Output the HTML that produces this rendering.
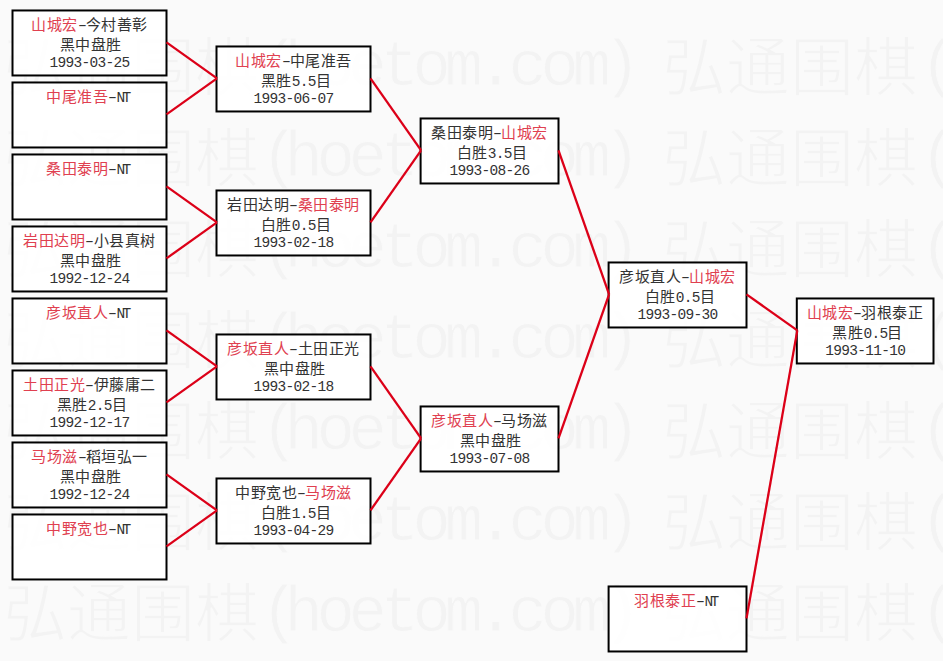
<!DOCTYPE html>
<html lang="zh-CN"><head><meta charset="utf-8"><title>bracket</title>
<style>
html,body{margin:0;padding:0;}
body{width:943px;height:661px;overflow:hidden;background:#fafafa;font-family:"Liberation Sans",sans-serif;}
.root{position:relative;width:943px;height:661px;overflow:hidden;background:#fafafa;}
.wr{position:absolute;left:0;width:943px;height:91px;}
.wu{position:absolute;top:0;white-space:nowrap;font-family:"Liberation Serif",serif;font-size:64px;line-height:1;color:#f3f3f3;-webkit-text-stroke:1.5px #fafafa;}
.wa{position:absolute;white-space:nowrap;font-family:"Liberation Mono",monospace;font-size:64px;letter-spacing:-6.4px;line-height:1;color:#f3f3f3;-webkit-text-stroke:0.8px #fafafa;}
svg{position:absolute;left:0;top:0;}
.t{position:absolute;text-align:center;white-space:nowrap;font-family:"Liberation Sans",sans-serif;font-size:15px;line-height:20px;letter-spacing:0.5px;-webkit-text-stroke:0px #fafafa;}
.r{color:#e04050;}
.b{color:#333;}
.a{font-family:"Liberation Mono",monospace;font-size:14.5px;letter-spacing:-0.7px;}
.a.nt{letter-spacing:-2.6px;}
.a.h{display:inline-block;transform:scaleX(1.6);letter-spacing:-0.7px;}
</style></head><body><div class="root">
<div class="wr" style="top:37px"><span class="wu" style="left:-656.5px;top:0px">弘通围棋</span><span class="wa" style="left:-398.5px;top:-1px">(</span><span class="wa" style="left:-374.5px;top:-1px">hoetom.com</span><span class="wa" style="left:-56.5px;top:-1px">)</span><span class="wu" style="left:2.5px;top:0px">弘通围棋</span><span class="wa" style="left:260.5px;top:-1px">(</span><span class="wa" style="left:284.5px;top:-1px">hoetom.com</span><span class="wa" style="left:602.5px;top:-1px">)</span><span class="wu" style="left:661.5px;top:0px">弘通围棋</span><span class="wa" style="left:919.5px;top:-1px">(</span><span class="wa" style="left:943.5px;top:-1px">hoetom.com</span><span class="wa" style="left:1261.5px;top:-1px">)</span></div><div class="wr" style="top:128px"><span class="wu" style="left:-656.5px;top:0px">弘通围棋</span><span class="wa" style="left:-398.5px;top:-1px">(</span><span class="wa" style="left:-374.5px;top:-1px">hoetom.com</span><span class="wa" style="left:-56.5px;top:-1px">)</span><span class="wu" style="left:2.5px;top:0px">弘通围棋</span><span class="wa" style="left:260.5px;top:-1px">(</span><span class="wa" style="left:284.5px;top:-1px">hoetom.com</span><span class="wa" style="left:602.5px;top:-1px">)</span><span class="wu" style="left:661.5px;top:0px">弘通围棋</span><span class="wa" style="left:919.5px;top:-1px">(</span><span class="wa" style="left:943.5px;top:-1px">hoetom.com</span><span class="wa" style="left:1261.5px;top:-1px">)</span></div><div class="wr" style="top:219px"><span class="wu" style="left:-656.5px;top:0px">弘通围棋</span><span class="wa" style="left:-398.5px;top:-1px">(</span><span class="wa" style="left:-374.5px;top:-1px">hoetom.com</span><span class="wa" style="left:-56.5px;top:-1px">)</span><span class="wu" style="left:2.5px;top:0px">弘通围棋</span><span class="wa" style="left:260.5px;top:-1px">(</span><span class="wa" style="left:284.5px;top:-1px">hoetom.com</span><span class="wa" style="left:602.5px;top:-1px">)</span><span class="wu" style="left:661.5px;top:0px">弘通围棋</span><span class="wa" style="left:919.5px;top:-1px">(</span><span class="wa" style="left:943.5px;top:-1px">hoetom.com</span><span class="wa" style="left:1261.5px;top:-1px">)</span></div><div class="wr" style="top:310px"><span class="wu" style="left:-656.5px;top:0px">弘通围棋</span><span class="wa" style="left:-398.5px;top:-1px">(</span><span class="wa" style="left:-374.5px;top:-1px">hoetom.com</span><span class="wa" style="left:-56.5px;top:-1px">)</span><span class="wu" style="left:2.5px;top:0px">弘通围棋</span><span class="wa" style="left:260.5px;top:-1px">(</span><span class="wa" style="left:284.5px;top:-1px">hoetom.com</span><span class="wa" style="left:602.5px;top:-1px">)</span><span class="wu" style="left:661.5px;top:0px">弘通围棋</span><span class="wa" style="left:919.5px;top:-1px">(</span><span class="wa" style="left:943.5px;top:-1px">hoetom.com</span><span class="wa" style="left:1261.5px;top:-1px">)</span></div><div class="wr" style="top:401px"><span class="wu" style="left:-656.5px;top:0px">弘通围棋</span><span class="wa" style="left:-398.5px;top:-1px">(</span><span class="wa" style="left:-374.5px;top:-1px">hoetom.com</span><span class="wa" style="left:-56.5px;top:-1px">)</span><span class="wu" style="left:2.5px;top:0px">弘通围棋</span><span class="wa" style="left:260.5px;top:-1px">(</span><span class="wa" style="left:284.5px;top:-1px">hoetom.com</span><span class="wa" style="left:602.5px;top:-1px">)</span><span class="wu" style="left:661.5px;top:0px">弘通围棋</span><span class="wa" style="left:919.5px;top:-1px">(</span><span class="wa" style="left:943.5px;top:-1px">hoetom.com</span><span class="wa" style="left:1261.5px;top:-1px">)</span></div><div class="wr" style="top:492px"><span class="wu" style="left:-656.5px;top:0px">弘通围棋</span><span class="wa" style="left:-398.5px;top:-1px">(</span><span class="wa" style="left:-374.5px;top:-1px">hoetom.com</span><span class="wa" style="left:-56.5px;top:-1px">)</span><span class="wu" style="left:2.5px;top:0px">弘通围棋</span><span class="wa" style="left:260.5px;top:-1px">(</span><span class="wa" style="left:284.5px;top:-1px">hoetom.com</span><span class="wa" style="left:602.5px;top:-1px">)</span><span class="wu" style="left:661.5px;top:0px">弘通围棋</span><span class="wa" style="left:919.5px;top:-1px">(</span><span class="wa" style="left:943.5px;top:-1px">hoetom.com</span><span class="wa" style="left:1261.5px;top:-1px">)</span></div><div class="wr" style="top:583px"><span class="wu" style="left:-656.5px;top:0px">弘通围棋</span><span class="wa" style="left:-398.5px;top:-1px">(</span><span class="wa" style="left:-374.5px;top:-1px">hoetom.com</span><span class="wa" style="left:-56.5px;top:-1px">)</span><span class="wu" style="left:2.5px;top:0px">弘通围棋</span><span class="wa" style="left:260.5px;top:-1px">(</span><span class="wa" style="left:284.5px;top:-1px">hoetom.com</span><span class="wa" style="left:602.5px;top:-1px">)</span><span class="wu" style="left:661.5px;top:0px">弘通围棋</span><span class="wa" style="left:919.5px;top:-1px">(</span><span class="wa" style="left:943.5px;top:-1px">hoetom.com</span><span class="wa" style="left:1261.5px;top:-1px">)</span></div><div class="wr" style="top:674px"><span class="wu" style="left:-656.5px;top:0px">弘通围棋</span><span class="wa" style="left:-398.5px;top:-1px">(</span><span class="wa" style="left:-374.5px;top:-1px">hoetom.com</span><span class="wa" style="left:-56.5px;top:-1px">)</span><span class="wu" style="left:2.5px;top:0px">弘通围棋</span><span class="wa" style="left:260.5px;top:-1px">(</span><span class="wa" style="left:284.5px;top:-1px">hoetom.com</span><span class="wa" style="left:602.5px;top:-1px">)</span><span class="wu" style="left:661.5px;top:0px">弘通围棋</span><span class="wa" style="left:919.5px;top:-1px">(</span><span class="wa" style="left:943.5px;top:-1px">hoetom.com</span><span class="wa" style="left:1261.5px;top:-1px">)</span></div>
<svg width="943" height="661" viewBox="0 0 943 661">
<rect x="12.50" y="10.47" width="154.00" height="65.00" fill="#ffffff" fill-opacity="0.85" stroke="#000" stroke-width="2.0"/>
<rect x="12.50" y="82.47" width="154.00" height="65.00" fill="#ffffff" fill-opacity="0.85" stroke="#000" stroke-width="2.0"/>
<rect x="12.50" y="154.47" width="154.00" height="65.00" fill="#ffffff" fill-opacity="0.85" stroke="#000" stroke-width="2.0"/>
<rect x="12.50" y="226.47" width="154.00" height="65.00" fill="#ffffff" fill-opacity="0.85" stroke="#000" stroke-width="2.0"/>
<rect x="12.50" y="298.47" width="154.00" height="65.00" fill="#ffffff" fill-opacity="0.85" stroke="#000" stroke-width="2.0"/>
<rect x="12.50" y="370.47" width="154.00" height="65.00" fill="#ffffff" fill-opacity="0.85" stroke="#000" stroke-width="2.0"/>
<rect x="12.50" y="442.47" width="154.00" height="65.00" fill="#ffffff" fill-opacity="0.85" stroke="#000" stroke-width="2.0"/>
<rect x="12.50" y="514.47" width="154.00" height="65.00" fill="#ffffff" fill-opacity="0.85" stroke="#000" stroke-width="2.0"/>
<rect x="216.50" y="46.47" width="154.00" height="65.00" fill="#ffffff" fill-opacity="0.85" stroke="#000" stroke-width="2.0"/>
<rect x="216.50" y="190.47" width="154.00" height="65.00" fill="#ffffff" fill-opacity="0.85" stroke="#000" stroke-width="2.0"/>
<rect x="216.50" y="334.47" width="154.00" height="65.00" fill="#ffffff" fill-opacity="0.85" stroke="#000" stroke-width="2.0"/>
<rect x="216.50" y="478.47" width="154.00" height="65.00" fill="#ffffff" fill-opacity="0.85" stroke="#000" stroke-width="2.0"/>
<rect x="420.60" y="118.47" width="137.90" height="65.00" fill="#ffffff" fill-opacity="0.85" stroke="#000" stroke-width="2.0"/>
<rect x="420.60" y="406.47" width="137.90" height="65.00" fill="#ffffff" fill-opacity="0.85" stroke="#000" stroke-width="2.0"/>
<rect x="608.60" y="262.47" width="137.90" height="65.00" fill="#ffffff" fill-opacity="0.85" stroke="#000" stroke-width="2.0"/>
<rect x="608.60" y="586.47" width="137.90" height="65.00" fill="#ffffff" fill-opacity="0.85" stroke="#000" stroke-width="2.0"/>
<rect x="796.80" y="298.47" width="136.70" height="65.00" fill="#ffffff" fill-opacity="0.85" stroke="#000" stroke-width="2.0"/>
<line x1="166.50" y1="42.37" x2="217.00" y2="78.37" stroke="#dc0018" stroke-width="2.3"/>
<line x1="166.50" y1="114.37" x2="217.00" y2="78.37" stroke="#dc0018" stroke-width="2.3"/>
<line x1="166.50" y1="186.37" x2="217.00" y2="222.37" stroke="#dc0018" stroke-width="2.3"/>
<line x1="166.50" y1="258.37" x2="217.00" y2="222.37" stroke="#dc0018" stroke-width="2.3"/>
<line x1="166.50" y1="330.37" x2="217.00" y2="366.37" stroke="#dc0018" stroke-width="2.3"/>
<line x1="166.50" y1="402.37" x2="217.00" y2="366.37" stroke="#dc0018" stroke-width="2.3"/>
<line x1="166.50" y1="474.37" x2="217.00" y2="510.37" stroke="#dc0018" stroke-width="2.3"/>
<line x1="166.50" y1="546.37" x2="217.00" y2="510.37" stroke="#dc0018" stroke-width="2.3"/>
<line x1="370.50" y1="78.37" x2="421.10" y2="150.37" stroke="#dc0018" stroke-width="2.3"/>
<line x1="370.50" y1="222.37" x2="421.10" y2="150.37" stroke="#dc0018" stroke-width="2.3"/>
<line x1="370.50" y1="366.37" x2="421.10" y2="438.37" stroke="#dc0018" stroke-width="2.3"/>
<line x1="370.50" y1="510.37" x2="421.10" y2="438.37" stroke="#dc0018" stroke-width="2.3"/>
<line x1="558.50" y1="150.37" x2="609.10" y2="294.37" stroke="#dc0018" stroke-width="2.3"/>
<line x1="558.50" y1="438.37" x2="609.10" y2="294.37" stroke="#dc0018" stroke-width="2.3"/>
<line x1="746.50" y1="294.37" x2="797.30" y2="330.37" stroke="#dc0018" stroke-width="2.3"/>
<line x1="746.50" y1="618.37" x2="797.30" y2="330.37" stroke="#dc0018" stroke-width="2.3"/>
</svg>
<div class="t" style="left:11.50px;top:14.97px;width:156.00px"><span class="r">山城宏</span><span class="b a h">-</span><span class="b">今村善彰</span></div>
<div class="t" style="left:12.50px;top:34.97px;width:156.00px"><span class="b">黑中盘胜</span></div>
<div class="t" style="left:11.50px;top:51.97px;width:156.00px"><span class="b a">1993-03-25</span></div>
<div class="t" style="left:9.50px;top:86.97px;width:156.00px"><span class="r">中尾准吾</span><span class="b a h">-</span><span class="b a nt">NT</span></div>
<div class="t" style="left:9.50px;top:158.97px;width:156.00px"><span class="r">桑田泰明</span><span class="b a h">-</span><span class="b a nt">NT</span></div>
<div class="t" style="left:11.50px;top:230.97px;width:156.00px"><span class="r">岩田达明</span><span class="b a h">-</span><span class="b">小县真树</span></div>
<div class="t" style="left:12.50px;top:250.97px;width:156.00px"><span class="b">黑中盘胜</span></div>
<div class="t" style="left:11.50px;top:267.97px;width:156.00px"><span class="b a">1992-12-24</span></div>
<div class="t" style="left:9.50px;top:302.97px;width:156.00px"><span class="r">彦坂直人</span><span class="b a h">-</span><span class="b a nt">NT</span></div>
<div class="t" style="left:11.50px;top:374.97px;width:156.00px"><span class="r">土田正光</span><span class="b a h">-</span><span class="b">伊藤庸二</span></div>
<div class="t" style="left:14.00px;top:394.97px;width:156.00px"><span class="b">黑胜</span><span class="b a">2.5</span><span class="b">目</span></div>
<div class="t" style="left:11.50px;top:411.97px;width:156.00px"><span class="b a">1992-12-17</span></div>
<div class="t" style="left:11.50px;top:446.97px;width:156.00px"><span class="r">马场滋</span><span class="b a h">-</span><span class="b">稻垣弘一</span></div>
<div class="t" style="left:12.50px;top:466.97px;width:156.00px"><span class="b">黑中盘胜</span></div>
<div class="t" style="left:11.50px;top:483.97px;width:156.00px"><span class="b a">1992-12-24</span></div>
<div class="t" style="left:9.50px;top:518.97px;width:156.00px"><span class="r">中野宽也</span><span class="b a h">-</span><span class="b a nt">NT</span></div>
<div class="t" style="left:215.50px;top:50.97px;width:156.00px"><span class="r">山城宏</span><span class="b a h">-</span><span class="b">中尾准吾</span></div>
<div class="t" style="left:218.00px;top:70.97px;width:156.00px"><span class="b">黑胜</span><span class="b a">5.5</span><span class="b">目</span></div>
<div class="t" style="left:215.50px;top:87.97px;width:156.00px"><span class="b a">1993-06-07</span></div>
<div class="t" style="left:215.50px;top:194.97px;width:156.00px"><span class="b">岩田达明</span><span class="b a h">-</span><span class="r">桑田泰明</span></div>
<div class="t" style="left:218.00px;top:214.97px;width:156.00px"><span class="b">白胜</span><span class="b a">0.5</span><span class="b">目</span></div>
<div class="t" style="left:215.50px;top:231.97px;width:156.00px"><span class="b a">1993-02-18</span></div>
<div class="t" style="left:215.50px;top:338.97px;width:156.00px"><span class="r">彦坂直人</span><span class="b a h">-</span><span class="b">土田正光</span></div>
<div class="t" style="left:216.50px;top:358.97px;width:156.00px"><span class="b">黑中盘胜</span></div>
<div class="t" style="left:215.50px;top:375.97px;width:156.00px"><span class="b a">1993-02-18</span></div>
<div class="t" style="left:215.50px;top:482.97px;width:156.00px"><span class="b">中野宽也</span><span class="b a h">-</span><span class="r">马场滋</span></div>
<div class="t" style="left:218.00px;top:502.97px;width:156.00px"><span class="b">白胜</span><span class="b a">1.5</span><span class="b">目</span></div>
<div class="t" style="left:215.50px;top:519.97px;width:156.00px"><span class="b a">1993-04-29</span></div>
<div class="t" style="left:419.60px;top:122.97px;width:139.90px"><span class="b">桑田泰明</span><span class="b a h">-</span><span class="r">山城宏</span></div>
<div class="t" style="left:422.10px;top:142.97px;width:139.90px"><span class="b">白胜</span><span class="b a">3.5</span><span class="b">目</span></div>
<div class="t" style="left:419.60px;top:159.97px;width:139.90px"><span class="b a">1993-08-26</span></div>
<div class="t" style="left:419.60px;top:410.97px;width:139.90px"><span class="r">彦坂直人</span><span class="b a h">-</span><span class="b">马场滋</span></div>
<div class="t" style="left:420.60px;top:430.97px;width:139.90px"><span class="b">黑中盘胜</span></div>
<div class="t" style="left:419.60px;top:447.97px;width:139.90px"><span class="b a">1993-07-08</span></div>
<div class="t" style="left:607.60px;top:266.97px;width:139.90px"><span class="b">彦坂直人</span><span class="b a h">-</span><span class="r">山城宏</span></div>
<div class="t" style="left:610.10px;top:286.97px;width:139.90px"><span class="b">白胜</span><span class="b a">0.5</span><span class="b">目</span></div>
<div class="t" style="left:607.60px;top:303.97px;width:139.90px"><span class="b a">1993-09-30</span></div>
<div class="t" style="left:605.60px;top:590.97px;width:139.90px"><span class="r">羽根泰正</span><span class="b a h">-</span><span class="b a nt">NT</span></div>
<div class="t" style="left:795.80px;top:302.97px;width:138.70px"><span class="r">山城宏</span><span class="b a h">-</span><span class="b">羽根泰正</span></div>
<div class="t" style="left:798.30px;top:322.97px;width:138.70px"><span class="b">黑胜</span><span class="b a">0.5</span><span class="b">目</span></div>
<div class="t" style="left:795.80px;top:339.97px;width:138.70px"><span class="b a">1993-11-10</span></div>
</div></body></html>
